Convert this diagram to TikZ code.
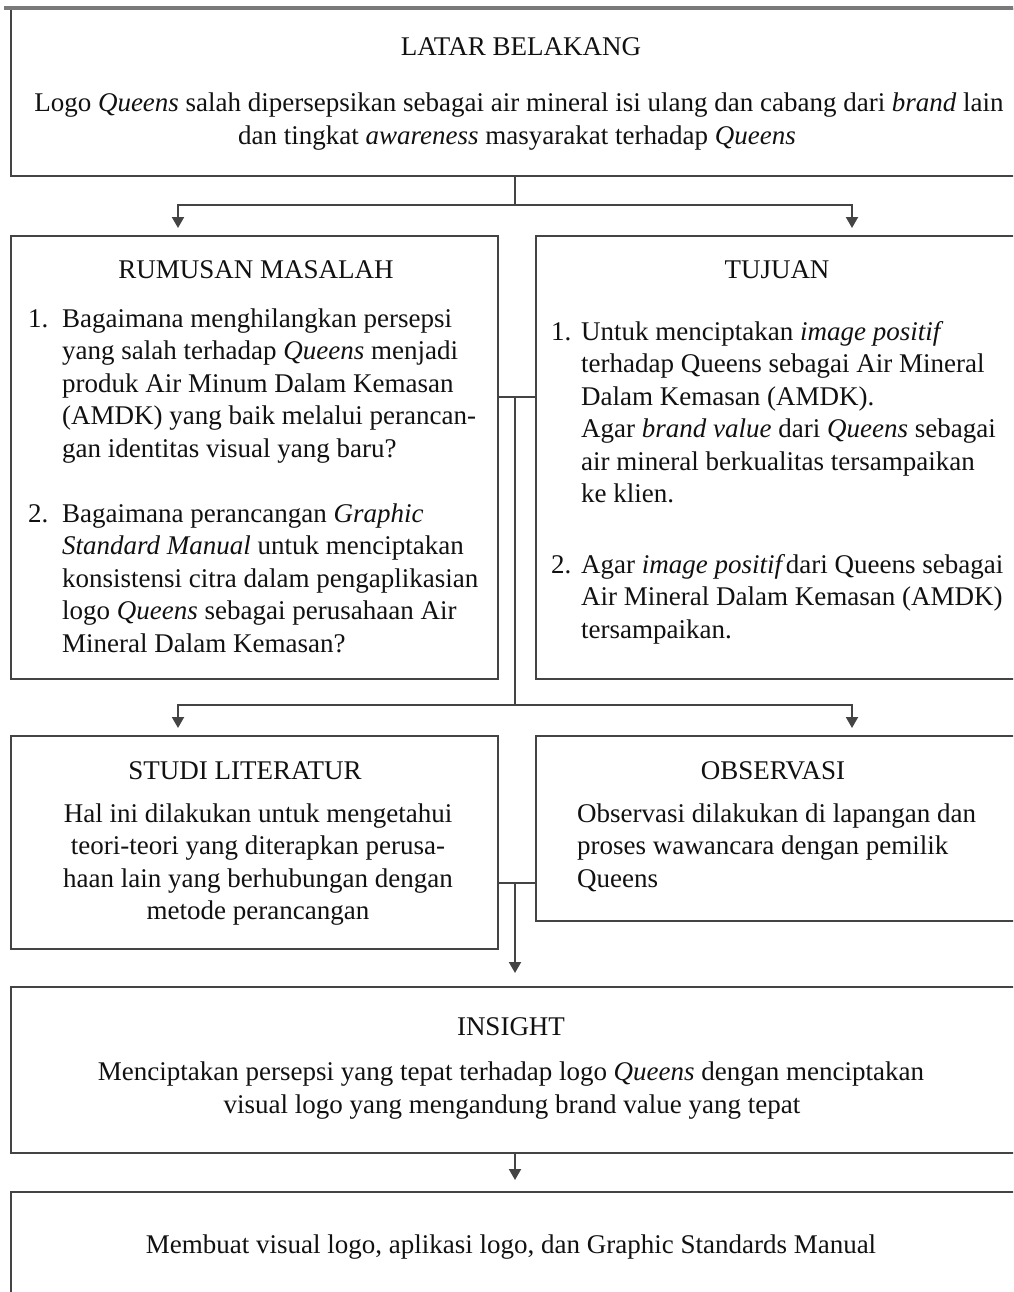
\documentclass[tikz,border=0pt]{standalone}
\usepackage{fontspec}
\setmainfont{Liberation Serif}
\usetikzlibrary{arrows.meta}
\definecolor{ink}{HTML}{111111}
\definecolor{rule}{HTML}{444444}
\definecolor{toprule}{HTML}{7A7A7A}
\begin{document}
\begin{tikzpicture}[x=1pt,y=-1pt,
  box/.style={draw=rule, line width=2pt, anchor=north west, inner sep=0pt, fill=none},
  txt/.style={text=ink, inner sep=0pt, font=\fontsize{27}{32.5}\selectfont},
  ttl/.style={txt, anchor=base},
  conn/.style={draw=rule, line width=2pt},
  arr/.style={conn, -{Triangle[length=11pt,width=12pt]}}
]
\useasboundingbox (0,0) rectangle (1013,1292);
\clip (0,0) rectangle (1013,1292);
\fill[white] (0,0) rectangle (1013,1292);

% boxes
\node[box, minimum width=1040pt, minimum height=167pt] (top) at (10,8) {};
\node[box, minimum width=487pt, minimum height=443pt] (rum) at (10,235) {};
\node[box, minimum width=515pt, minimum height=443pt] (tuj) at (535,235) {};
\node[box, minimum width=487pt, minimum height=213pt] (stu) at (10,735) {};
\node[box, minimum width=515pt, minimum height=185pt] (obs) at (535,735) {};
\node[box, minimum width=1040pt, minimum height=166pt] (ins) at (10,986) {};
\node[box, minimum width=1040pt, minimum height=140pt] (fin) at (10,1191) {};
\draw[toprule, line width=4pt] (top.north west) ++(-6,0) -- ++(1060,0);

% top box text
\node[ttl] (t0) at (521,56) {LATAR BELAKANG};
\node[ttl] (t1) at (519,112) {Logo {\itshape Queens} salah dipersepsikan sebagai air mineral isi ulang dan cabang dari {\itshape brand} lain};
\node[ttl] (t2) at (517,145) {dan tingkat {\itshape awareness} masyarakat terhadap {\itshape Queens}};

% rumusan
\node[ttl] (r0) at (256,278) {RUMUSAN MASALAH};
\node[txt, anchor=north west] (r1n) at (28,304.25) {\strut 1.};
\node[txt, anchor=north west, align=left] (r1) at (62,304.25) {\strut Bagaimana menghilangkan persepsi\\
yang salah terhadap {\itshape Queens} menjadi\\
produk Air Minum Dalam Kemasan\\
(AMDK) yang baik melalui perancan-\\
gan identitas visual yang baru?};
\node[txt, anchor=north west] (r2n) at (28,499.25) {\strut 2.};
\node[txt, anchor=north west, align=left] (r2) at (62,499.25) {\strut Bagaimana perancangan {\itshape Graphic}\\
{\itshape Standard Manual} untuk menciptakan\\
konsistensi citra dalam pengaplikasian\\
logo {\itshape Queens} sebagai perusahaan Air\\
Mineral Dalam Kemasan?};

% tujuan
\node[ttl] (u0) at (777,278) {TUJUAN};
\node[txt, anchor=north west] (u1n) at (551,317.25) {\strut 1.};
\node[txt, anchor=north west, align=left] (u1) at (581,317.25) {\strut Untuk menciptakan {\itshape image positif}\\
terhadap Queens sebagai Air Mineral\\
Dalam Kemasan (AMDK).\\
Agar {\itshape brand value} dari {\itshape Queens} sebagai\\
air mineral berkualitas tersampaikan\\
ke klien.};
\node[txt, anchor=north west] (u2n) at (551,550.25) {\strut 2.};
\node[txt, anchor=north west, align=left] (u2) at (581,550.25) {\strut Agar {\itshape image positif}\kern-3pt{} dari Queens sebagai\\
Air Mineral Dalam Kemasan (AMDK)\\
tersampaikan.};

% studi literatur
\node[ttl] (s0) at (245,779) {STUDI LITERATUR};
\node[txt, anchor=north, align=center] (s1) at (258,799.25) {\strut Hal ini dilakukan untuk mengetahui\\
teori-teori yang diterapkan perusa-\\
haan lain yang berhubungan dengan\\
metode perancangan};

% observasi
\node[ttl] (o0) at (773,779) {OBSERVASI};
\node[txt, anchor=north west, align=left] (o1) at (577,799.25) {\strut Observasi dilakukan di lapangan dan\\
proses wawancara dengan pemilik\\
Queens};

% insight
\node[ttl] (i0) at (511,1035) {INSIGHT};
\node[ttl] (i1) at (511,1080) {Menciptakan persepsi yang tepat terhadap logo {\itshape Queens} dengan menciptakan};
\node[ttl] (i2) at (512,1113) {visual logo yang mengandung brand value yang tepat};

% final
\node[ttl] (f1) at (511,1253) {Membuat visual logo, aplikasi logo, dan Graphic Standards Manual};

% connectors
\coordinate (j1) at (515,205);
\coordinate (la) at (178,205);
\coordinate (ra) at (852,205);
\draw[conn] (top.south -| j1) -- (j1);
\draw[arr, shorten >=7pt] (j1) -| (rum.north -| la);
\draw[arr, shorten >=7pt] (j1) -| (tuj.north -| ra);

\coordinate (m1) at (515,397);
\coordinate (j2) at (515,705);
\draw[conn] (rum.east |- m1) -- (tuj.west |- m1);
\draw[conn] (m1) -- (j2);
\draw[arr, shorten >=7pt] (j2) -| (stu.north -| la);
\draw[arr, shorten >=7pt] (j2) -| (obs.north -| ra);

\coordinate (m2) at (515,883);
\draw[conn] (stu.east |- m2) -- (obs.west |- m2);
\draw[arr, shorten >=13pt] (m2) -- (ins.north -| m2);
\draw[arr, shorten >=11pt] (ins.south -| m2) -- (fin.north -| m2);
\end{tikzpicture}
\end{document}
